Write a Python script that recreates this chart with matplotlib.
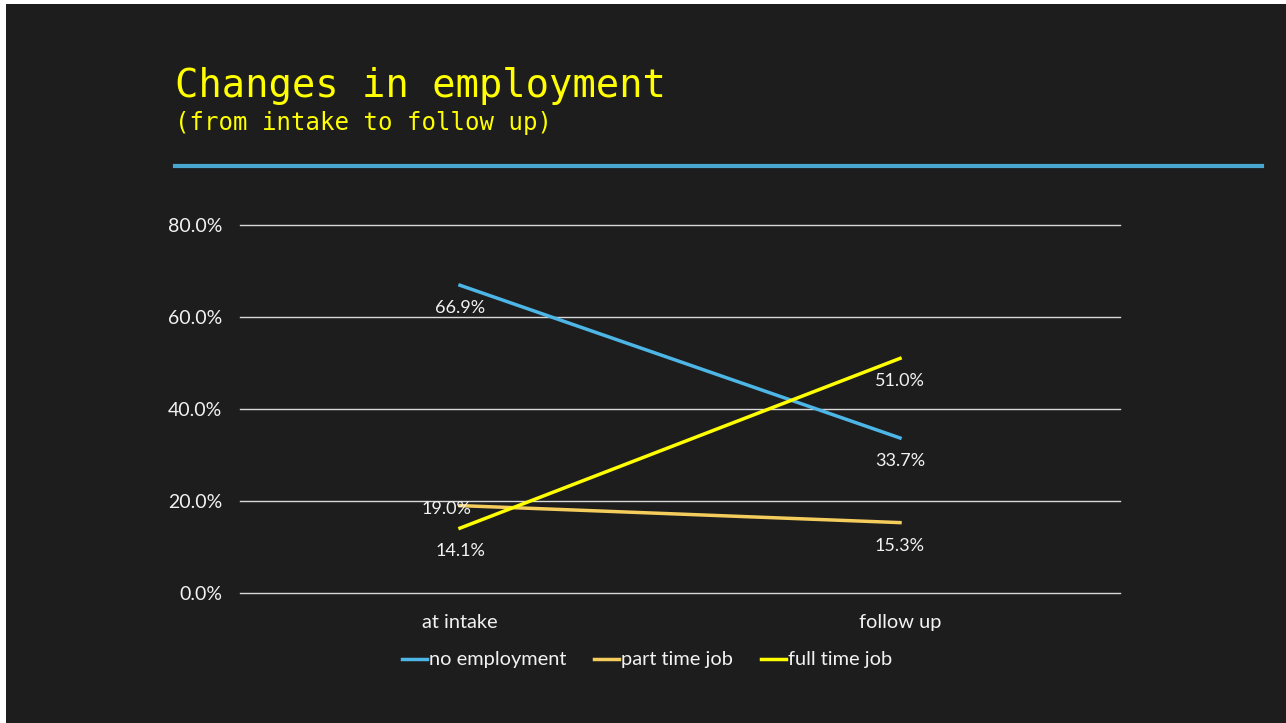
import matplotlib
matplotlib.use('Agg')
from matplotlib import pyplot as plt
from matplotlib.patches import Rectangle
from matplotlib.lines import Line2D
from matplotlib.ticker import FuncFormatter

categories = ['at intake', 'follow up']
no_employment = [66.9, 33.7]
part_time = [19.0, 15.3]
full_time = [14.1, 51.0]
series_names = ['no employment', 'part time job', 'full time job']
y_ticks = [0, 20, 40, 60, 80]

blue = '#4db6e6'
gold = '#f4cd5c'
yellow = '#ffff00'
text_col = '#f2f2f2'
label_font = ['Lato', 'DejaVu Sans']

fig = plt.figure(figsize=(12.86, 7.23), dpi=100)
fig.patch.set_facecolor('white')
# chalkboard background
fig.patches.append(Rectangle((6 / 1286, 0), 1 - 6 / 1286, 1 - 4 / 723,
                             transform=fig.transFigure, facecolor='#1d1d1d',
                             edgecolor='none', zorder=-5))

fig.text(175 / 1286, 1 - 97 / 723, 'Changes in employment', color=yellow,
         family='DejaVu Sans Mono', fontsize=28, va='baseline')
fig.text(175 / 1286, 1 - 130 / 723, '(from intake to follow up)', color=yellow,
         family='DejaVu Sans Mono', fontsize=17.3, va='baseline')
fig.lines.append(Line2D([175 / 1286, 1262 / 1286], [1 - 166 / 723, 1 - 166 / 723],
                        transform=fig.transFigure, color=blue, lw=3, alpha=0.9))

ax = fig.add_axes([240 / 1286, 1 - 593 / 723, 880 / 1286, 368 / 723], zorder=2)
ax.set_facecolor('none')
x = [0, 1]
ax.plot(x, no_employment, color=blue, lw=2.5, label=series_names[0], zorder=3)
ax.plot(x, part_time, color=gold, lw=2.5, label=series_names[1], zorder=3)
ax.plot(x, full_time, color=yellow, lw=2.5, label=series_names[2], zorder=3)

ax.set_xlim(-0.5, 1.5)
ax.set_ylim(0, 80)
ax.set_yticks(y_ticks)
ax.yaxis.set_major_formatter(FuncFormatter(lambda v, p: f'{v:.1f}%'))
ax.set_xticks(x)
ax.set_xticklabels(categories)
ax.grid(axis='y', color='#d9d9d9', lw=1)
for gl in ax.get_ygridlines():
    gl.set_clip_on(False)
ax.set_axisbelow(True)
for s in ax.spines.values():
    s.set_visible(False)
ax.tick_params(length=0, colors=text_col, labelsize=14, pad=13)
ax.tick_params(axis='x', labelsize=14.4, pad=15)
for t in ax.get_xticklabels() + ax.get_yticklabels():
    t.set_family(label_font)
    t.set_color(text_col)

def lab(xi, v, dx=0, dy=-23):
    ax.annotate(f'{v:.1f}%', (xi, v), xytext=(dx, dy), textcoords='offset pixels',
                ha='center', va='center', color=text_col, fontsize=13,
                family=label_font)

for i in range(2):
    lab(i, no_employment[i])
    lab(i, full_time[i])
lab(0, part_time[0], dx=-14, dy=-3)
lab(1, part_time[1])

# legend is centred on the whole chart area, not the plot area
leg = ax.legend(loc='center', bbox_to_anchor=(647 / 1286, 1 - 660 / 723),
                bbox_transform=fig.transFigure, ncol=3, frameon=False,
                handlelength=1.25, handletextpad=0.1, columnspacing=1.4,
                prop={'family': label_font, 'size': 14.4})
for t in leg.get_texts():
    t.set_color(text_col)

fig.savefig('out.png', dpi=100, facecolor=fig.get_facecolor())
